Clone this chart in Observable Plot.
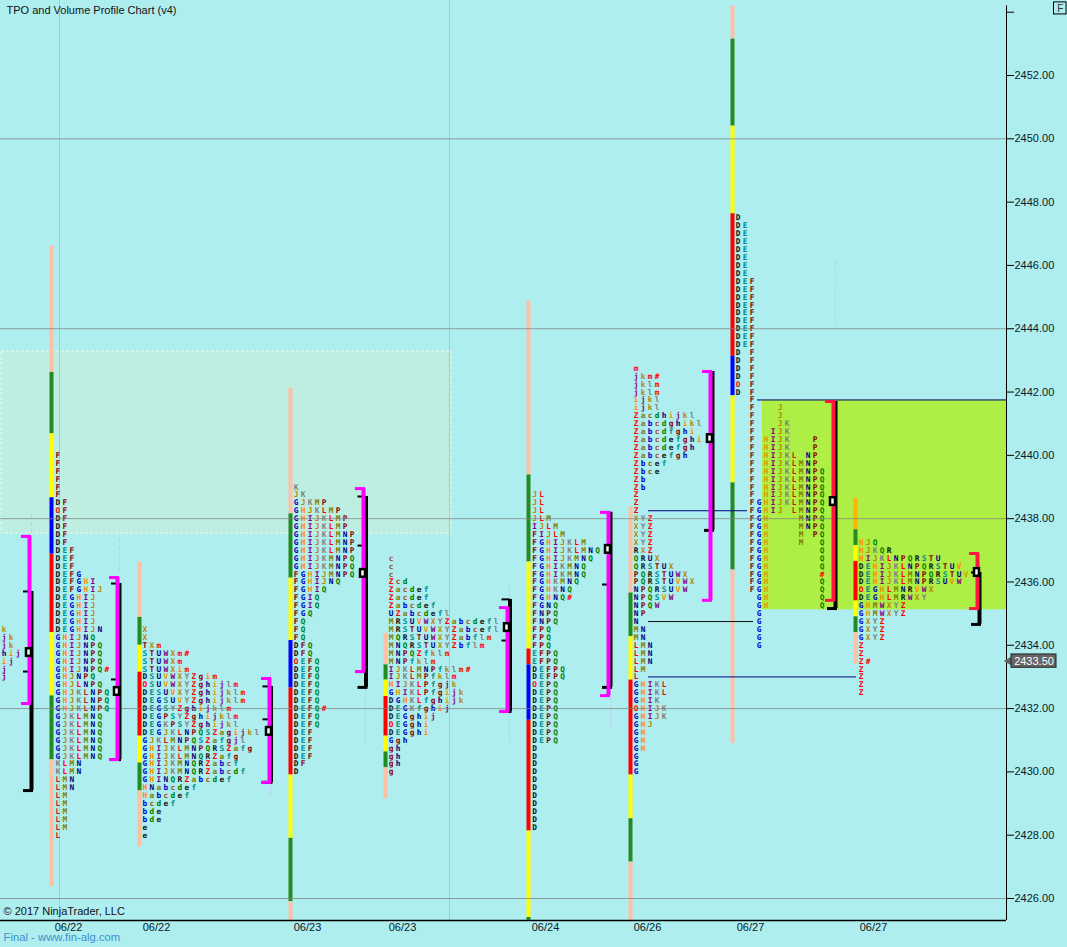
<!DOCTYPE html>
<html><head><meta charset="utf-8">
<script src="https://cdn.jsdelivr.net/npm/d3@7"></script>
<script src="https://cdn.jsdelivr.net/npm/@observablehq/plot@0.6"></script>
<style>html,body{margin:0;padding:0;background:#AFEEEE;overflow:hidden}svg{display:block}</style>
</head><body><div id="c"></div>
<script>
// ---------- letters: one string per quarter-point price row, top row first
const tpo0Top=2434.5, tpo0X=3.5, tpo0=["k","jk","jk","hij","ij","j","j"];
const tpo1Top=2440, tpo1X=57.3, tpo1=["F","F","F","F","F","F","DF","OF","DF","DF","DF","DF","DEF","DEF","DEF","DEFG","DEFGHI","DEFGHIJ","DEGHIJ","DEGHIJ","DEGHIJ","DEGHIJ","DEGHIJN","GHIJNQ","GHIJNPQ","GHIJNPQ","GHIJNPQ","GHIJNPQ#","GHJNPQ","GHJLNPQ","GHJKLNPQ","GHJKLNPQ","GHJKLNPQ","GJKLMNQ","GJKLMNQ","GJKLMNQ","GJKLMNQ","GJKLMNQ","GJKLMNQ","KLMN","KLMN","LMN","LMN","LM","LM","LM","LM","LM","L"];
const tpo2Top=2434.5, tpo2X=144.3, tpo2=["X","X","TXm","STUWXm#","STUWXm","STUWXim","DSUVWXYZgim","OSUVWXYZghijlm","DESUVXYZghijklm","DEGSUVYZghijklm","DEGSYZghijklm","DEGPSYZghijklm","DEGKPSYZghijkl","DEGJKLNPQSZagijkl","GJKLMNPQSZafgjl","GHIJKLMNPQRSZafg","GHIJKLMNQRZafg","GHIJKMNQRZabcf","GHIJKMNQRZabcdf","GHINQRZabcdef","HNabcdef","Habcdef","bcdef","bde","bde","e","e"];
const tpo3Top=2439, tpo3X=295.7, tpo3=["K","JK","GJKMP","GHJKLMP","GHIJKLMP","GHIJKLMP","GHIJKLMNP","GHIJKLMNP","GHIJKLMNP","GHIJKMNPQ","GHIJKMNPQ","FGHIJMNPQ","FGHIJNQ","FGHIQ","FGIQ","FGIQ","FGQ","FQ","FQ","FQ","DFQ","DFQ","OEFQ","DEFQ","DEFQ","DEFQ","DEFQ","DEFQ","DEFQ#","DEFQ","DEFQ","DEF","DEF","DEF","DEF","DF","D"];
const tpo4Top=2436.75, tpo4X=390.7, tpo4=["c","c","c","Zcd","Zacdef","Zacdef","Zabcdef","UZabcdefl","MRSUVWXYZabcdefl","MRSTUVWXYZabcefl","MQRSTUWXYZabflm","MNQRSTUXYZbflm","MNPQZfklm","MNPfklm","IJKLMNPfklm#","IJKLMPfklm","HIJKLPfgjk","GHIKLPfgijk","DGHKLfghijk","DEGKfghij","DEGghij","OEGghi","DEGghi","Ggh","gh","gh","gh","g"];
const tpo5Top=2438.75, tpo5X=534, tpo5=["JL","JL","JL","JLM","IJLM","FIJLM","FGHIJKLM","FGHIJKLMNQ","FGHIJKMNQ","FGHIKMNQ","FGHIKMNQ","FGHKMNQ","FGHKNQ","FGHNQ#","FGNQ","FNPQ","FNPQ","FPQ","FPQ","FPQ","EFPQ","EFPQ","DEFPQ","DEFPQ","OEPQ","DEPQ","DEPQ","DEPQ","DEPQ","DEPQ","DEPQ","DEPQ","D","D","D","D","D","D","D","D","D","D","D"];
const tpo6Top=2442.75, tpo6X=635.7, tpo6=["m","jkm#","jklm","jklm","ijkl","ijkl","Zacdhijkl","Zabcdghikl","Zabcdfghi","Zabcdefghi","Zabcdefgh","Zabcefgh","Zbcef","Zbce","Zb","Zb","Z","Z","Z","XYZ","XYZ","XYZ","XYZ","RXZ","QRUX","QRSTUX","PQRSTUWX","PQRSTUVWX","NPQRSUVW","NPQSVW","NPQW","NP","N","MN","MN","LMN","LMN","LMN","LM","L","GHIKL","GHIKL","GHIK","OHIJK","GHIJK","GHJ","GH","GH","GH","G","G","G"];
const tpo7Top=2447.5, tpo7X=737.7, tpo7=["D","DE","DE","DE","DE","DE","DE","DE","DEF","DEF","DEF","DEF","DEF","DEF","DEF","DEF","DEF","D F","D F","D F","D F","O F","D F","  F","  F   J","  F   J","  F   JK","  F  IJK","  F HIJK   P","  F HIJK   P","  F HIJKL NP","  F HIJKLMNP","  F HIJKLMNPQ","  F HIJKLMNPQ","  F HIJKLMNPQ","  F HIJKLMNPQ","  FGHIJKLMNPQ","  FGHIJ LMNPQ","  FGH    MNPQ","  FGH    MNPQ","  FGH    M PQ","  FGH    M  Q","  FGH       Q","  FGH       Q","  FGH       Q","  FGH       #","  FGH       Q","  FGH       Q","   GH       Q","   GH       Q","   G","   G","   G","   G","   G"];
const tpo8Top=2437.25, tpo8X=860.7, tpo8=["HJQ","HJKQR","HIJKLNPQRSTU","DEHIJKLNPQRSTUV","DEHIJKLMNPQRSTUV","DEHIJKLMNPRSUVW","OEGHLMNRVWX","DEGHLMRWXY","GHMWXYZ","GHMWXYZ","GXYZ","GXYZ","GXYZ","Z","Z","Z#","Z","Z","Z","Z"];
const letterKeys="DEFGHIJKLMNPQRSTUVWXYZabcdefghijklmO#";
const letterInks=["#111","#008b8b","#8b0000","#0000cd","#ff8c00","#800080","#b8860b","#808080","#ff0000","#808000","#000080","#8b0000","#008000","#111","#008b8b","#8b0000","#000080","#ff8c00","#800080","#b8860b","#808080","#ff0000","#808000","#0000cd","#a0522d","#008000","#111","#008b8b","#8b0000","#000080","#ff8c00","#800080","#b8860b","#808080","#ff0000","#ff0000","#ff0000"];
// ---------- coloured session bars: price edges top to bottom, and the colour of each stretch
const peach="#ffbfa6",gr="#228b22",ye="#ffff00",bl="#0000ff",re="#ff0000",am="#ffb300";
const barX=[51,139,290,385,528,630,732,855];
const barEdges=[
 [2446.62,2442.62,2440.68,2438.66,2436.88,2434.4,2432.4,2430.38,2426.38],
 [2436.62,2434.88,2434.0,2433.15,2431.13,2430.28,2429.4,2427.63],
 [2442.12,2438.15,2436.12,2434.15,2432.65,2429.9,2427.9,2425.9,2425.31],
 [2434.38,2433.38,2432.9,2432.38,2431.13,2430.63,2430.13,2429.15],
 [2444.88,2439.38,2436.63,2433.88,2433.38,2431.63,2428.13,2425.4,2425.31],
 [2438.38,2435.65,2434.27,2432.9,2429.9,2428.52,2427.15,2425.31],
 [2454.2,2453.15,2450.4,2447.63,2443.13,2441.88,2439.13,2436.38,2430.9],
 [2438.65,2437.65,2437.15,2436.65,2435.4,2434.9,2434.4,2433.4]];
const barInks=[
 [peach,gr,ye,bl,re,ye,gr,peach],
 [peach,gr,ye,re,ye,gr,peach],
 [peach,gr,ye,bl,re,ye,gr,peach],
 [peach,gr,ye,re,ye,gr,peach],
 [peach,gr,ye,re,bl,re,ye,gr],
 [peach,gr,ye,re,ye,gr,peach],
 [peach,gr,ye,re,bl,ye,gr,peach],
 [am,gr,ye,re,ye,gr,peach]];
// ---------- value-area brackets
const vaX=[29,117,269,363,507,608,710,833,977];
const vaHigh=[2437.44,2436.14,2432.95,2438.95,2435.19,2438.2,2442.65,2441.7,2436.9];
const vaLow=[2432.16,2430.39,2429.67,2433.17,2431.91,2432.41,2435.42,2435.42,2435.16];
const vaInk=["#ff00ff","#ff00ff","#ff00ff","#ff00ff","#ff00ff","#ff00ff","#ff00ff","#ff1744","#ff1744"];
const rangeX=[31,119,270.5,365.5,509.5,610,712,835,979];
const rangeHigh=[2435.7,2435.95,2432.7,2438.7,2435.45,2438.2,2442.65,2441.7,2436.3];
const rangeLow=[2429.41,2430.39,2429.67,2432.67,2431.91,2432.67,2437.63,2435.16,2434.66];
const pocPrice=[2433.77,2432.54,2431.28,2436.27,2434.56,2437.03,2440.53,2438.54,2436.3];
const midPrice=[2433.17,2432.92,2431.66,2437.15,2434.15,2435.92];
// ---------- faint wicks
const wickX=[31,31,119,270,270,365,509,509,610,835];
const wickTop=[2438.13,2436.87,2437.37,2433.14,2429.63,2432.64,2435.89,2431.88,2432.35,2446.16];
const wickBottom=[2437.53,2436.14,2436.27,2432.95,2429.19,2430.9,2435.48,2430.9,2431.4,2444.1];
// ---------- zones and naked-level lines
const zoneX1=[1,762], zoneX2=[451,1006], zoneTop=[2443.28,2441.75], zoneBottom=[2437.53,2435.12];
const levelX1=[648,648,648,757], levelX2=[747,753,856,1006], levelPrice=[2438.25,2434.75,2433,2441.75], levelInk=["#000080","#111","#000080","#000080"];
// ---------- axes
const gridPrices=[2426,2432,2438,2444,2450];
const sessionLines=[59,449];
const priceTicks=d3.range(2426,2455,2);
const dateX=[68,156,307,402,545,647,750,873];
const dateLabels=["06/22","06/22","06/23","06/23","06/24","06/26","06/27","06/27"];
const lastPrice=2433.5;

const inkOf=Object.fromEntries([...letterKeys].map((k,i)=>[k,letterInks[i]]));
const rows=[[tpo0,tpo0Top,tpo0X],[tpo1,tpo1Top,tpo1X],[tpo2,tpo2Top,tpo2X],[tpo3,tpo3Top,tpo3X],[tpo4,tpo4Top,tpo4X],[tpo5,tpo5Top,tpo5X],[tpo6,tpo6Top,tpo6X],[tpo7,tpo7Top,tpo7X],[tpo8,tpo8Top,tpo8X]];
const letters=rows.flatMap(([r,top,x0])=>r.flatMap((s,i)=>[...s].map((c,j)=>({c,x:x0+j*7,y:top-i*0.25})).filter(d=>d.c!==" ")));
const barSegs=barX.flatMap((x,i)=>barInks[i].map((ink,j)=>({x,y1:barEdges[i][j],y2:barEdges[i][j+1],ink})));
const idx=vaX.map((_,i)=>i);
const midIdx=midPrice.map((_,i)=>i);
const black="#000";
const chart=Plot.plot({
 width:1067,height:947,marginLeft:0,marginRight:61,marginTop:0,marginBottom:27,
 style:{background:"#AFEEEE",fontFamily:"'Liberation Sans',Arial,sans-serif"},
 x:{domain:[0,1006],range:[0,1006],axis:null},
 y:{domain:[2425.305,2454.37],range:[920,0],axis:null},
 color:{type:"identity"},
 marks:[
  Plot.rect([0],{x1:zoneX1[0],x2:zoneX2[0],y1:zoneTop[0],y2:zoneBottom[0],fill:"#beeee2",stroke:"#f4f8e4",strokeDasharray:"3,2"}),
  Plot.rect([1],{x1:zoneX1[1],x2:zoneX2[1],y1:zoneTop[1],y2:zoneBottom[1],fill:"#adef44"}),
  Plot.ruleX(sessionLines,{stroke:"#b4c4c8",strokeWidth:1}),
  Plot.ruleX(wickX,{x:d=>d,y1:(d,i)=>wickTop[i],y2:(d,i)=>wickBottom[i],stroke:"#b8d0f0",strokeWidth:1,strokeDasharray:"5,2"}),
  Plot.ruleX(barSegs,{x:"x",y1:"y1",y2:"y2",stroke:"ink",strokeWidth:4}),
  Plot.text(letters,{x:"x",y:"y",text:"c",fill:d=>inkOf[d.c],fontFamily:"'DejaVu Sans Mono',monospace",fontWeight:"bold",fontSize:7.8,textAnchor:"middle",lineAnchor:"middle"}),
  Plot.ruleY(gridPrices,{stroke:"#808080",strokeOpacity:0.75,strokeWidth:1}),
  Plot.ruleY(levelPrice,{y:d=>d,x1:(d,i)=>levelX1[i],x2:(d,i)=>levelX2[i],stroke:(d,i)=>levelInk[i],strokeWidth:1}),
  // black ranges
  Plot.ruleX(idx,{x:i=>rangeX[i],y1:i=>rangeHigh[i],y2:i=>rangeLow[i],stroke:black,strokeWidth:4}),
  Plot.ruleY(idx,{y:i=>rangeHigh[i],x1:i=>rangeX[i]-8,x2:i=>rangeX[i],stroke:black,strokeWidth:2}),
  Plot.ruleY(idx,{y:i=>rangeLow[i],x1:i=>rangeX[i]-8,x2:i=>rangeX[i]+2,stroke:black,strokeWidth:3}),
  Plot.ruleY(midIdx,{y:i=>midPrice[i],x1:i=>rangeX[i]-8,x2:i=>rangeX[i],stroke:black,strokeWidth:2}),
  // value areas
  Plot.ruleX(idx,{x:i=>vaX[i],y1:i=>vaHigh[i],y2:i=>vaLow[i],stroke:i=>vaInk[i],strokeWidth:4}),
  Plot.ruleY(idx,{y:i=>vaHigh[i],x1:i=>vaX[i]-8,x2:i=>vaX[i]+2,stroke:i=>vaInk[i],strokeWidth:3}),
  Plot.ruleY(idx,{y:i=>vaLow[i],x1:i=>vaX[i]-8,x2:i=>vaX[i]+2,stroke:i=>vaInk[i],strokeWidth:3}),
  // POC boxes
  Plot.rect(idx,{x1:i=>vaX[i]-3,x2:i=>vaX[i]+2,y1:i=>pocPrice[i]+0.12,y2:i=>pocPrice[i]-0.12,fill:"#f4fff8",stroke:black,strokeWidth:2.5}),
  // frame
  Plot.ruleY([2425.305],{x1:0,x2:1006,stroke:black,strokeWidth:1.5}),
  Plot.ruleX([1006],{y1:2425.305,y2:2454.2,stroke:black,strokeWidth:1}),
  Plot.axisY({anchor:"right",ticks:priceTicks,tickSize:7,tickPadding:1,label:null,fontSize:11,stroke:black,fill:"#0a1a2a",tickFormat:d=>d>2453?"":d.toFixed(2)}),
  Plot.axisX({anchor:"bottom",ticks:dateX,tickSize:0,tickPadding:3,label:null,fontSize:11,fill:"#0a1a2a",tickFormat:d=>dateLabels[dateX.indexOf(d)]}),
  // last price tag
  Plot.dot([lastPrice],{x:1011,y:d=>d,symbol:"triangle",rotate:-90,r:5,fill:"#666"}),
  Plot.rect([lastPrice],{x1:1011,x2:1056,y1:d=>d+0.21,y2:d=>d-0.21,fill:"#666",stroke:"#222",strokeWidth:1}),
  Plot.text([lastPrice],{x:1033.5,y:d=>d,text:d=>d.toFixed(2),fill:"#fff",fontSize:11,textAnchor:"middle"}),
  // F button
  Plot.rect([0],{x1:1053.5,x2:1066,y1:2454.31,y2:2453.93,fill:"none",stroke:black}),
  Plot.text(["F"],{x:1059.7,y:2454.12,fill:"#333",fontSize:10,textAnchor:"middle"}),
  // captions
  Plot.text(["TPO and Volume Profile Chart (v4)"],{frameAnchor:"top-left",dx:6,dy:6,fontSize:11,fill:"#111"}),
  Plot.text(["© 2017 NinjaTrader, LLC"],{frameAnchor:"bottom-left",dx:3,dy:-6,fontSize:11,fill:"#111"}),
  Plot.text(["Final - www.fin-alg.com"],{frameAnchor:"bottom-left",dx:3,dy:20,fontSize:11.3,fill:"#3f8fd0"})
 ]
});
document.getElementById("c").append(chart);
</script></body></html>
